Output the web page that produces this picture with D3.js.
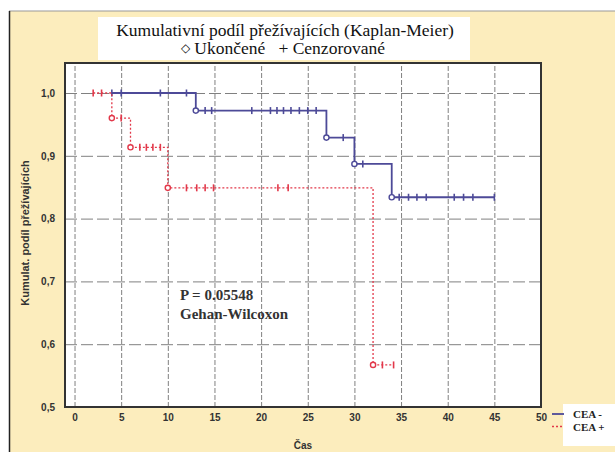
<!DOCTYPE html>
<html>
<head>
<meta charset="utf-8">
<script src="https://cdn.jsdelivr.net/npm/d3@7"></script>
<style>
body { margin: 0; background: #fff; }
svg { display: block; }
</style>
</head>
<body>
<div id="chart"></div>
<script>
(function(){

var width = 615,
	height = 452;

// plot frame (pixels)
var plot = { left: 65, right: 541, top: 63, bottom: 407 };

// data
var x_ticks = [0, 5, 10, 15, 20, 25, 30, 35, 40, 45, 50],
	y_ticks = [0.5, 0.6, 0.7, 0.8, 0.9, 1.0];

// CEA - (blue, solid): step path, events and censored times
var blue_steps = [[4, 1.0], [13, 0.972], [27, 0.929], [30, 0.887], [34, 0.834], [45, 0.834]];
var blue_events = [[13, 0.972], [27, 0.929], [30, 0.887], [34, 0.834]];
var blue_censored = [4, 5, 9.2, 12, 14, 14.7, 19, 21, 21.7, 22.4, 23.2, 24.1, 25, 25.9, 28.8, 30.9, 34.8, 35.8, 36.7, 37.7, 40.7, 41.7, 42.7, 45];

// CEA + (red, dotted)
var red_steps = [[2, 1.0], [4, 0.96], [6, 0.9135], [10, 0.849], [32, 0.567], [34.2, 0.567]];
var red_events = [[4, 0.96], [6, 0.9135], [10, 0.849], [32, 0.567]];
var red_censored = [2, 2.9, 5, 7, 7.7, 8.4, 9.2, 12, 13.1, 14, 14.9, 21.8, 22.9, 33, 34.2];

var legend_labels = ["CEA -", "CEA +"];
var title_lines = ["Kumulativní podíl přežívajících (Kaplan-Meier)"];
var note_lines = ["P = 0.05548", "Gehan-Wilcoxon"];

var blue = "#4d4a98",
	red = "#e2384a",
	beige = "#fcedbd";

var svg = d3.select("#chart").append("svg")
	.attr("width", width)
	.attr("height", height);

// panel background
svg.append("rect").attr("x", 9).attr("y", 11).attr("width", width - 9).attr("height", height - 11)
	.style("fill", beige);
svg.append("line").attr("x1", 9).attr("x2", width).attr("y1", 11).attr("y2", 11)
	.style("stroke", "#999").style("stroke-width", 1);
svg.append("line").attr("x1", 9.5).attr("x2", 9.5).attr("y1", 11).attr("y2", height)
	.style("stroke", "#222").style("stroke-width", 1.5);

// title box
svg.append("rect").attr("x", 98).attr("y", 17).attr("width", 372).attr("height", 43)
	.style("fill", "#fff");
svg.append("text").attr("x", 285).attr("y", 35.5)
	.attr("text-anchor", "middle")
	.style("font-family", "Liberation Serif, serif").style("font-size", "17.5px").style("fill", "#111")
	.text(title_lines[0]);
var sub = svg.append("text").attr("x", 283).attr("y", 54)
	.attr("text-anchor", "middle")
	.style("font-family", "Liberation Serif, serif").style("font-size", "17.5px").style("fill", "#111")
	.attr("xml:space", "preserve");
sub.append("tspan").style("font-size", "12px").attr("dy", -2).text("\u25C7");
sub.append("tspan").attr("dy", 2).text(" Ukončené   + Cenzorované");

var X = d3.scaleLinear().domain([-1.02, 50]).range([plot.left, plot.right]);
var Y = d3.scaleLinear().domain([0.5, 1.0]).range([plot.bottom, 93]);

// plot area
svg.append("rect")
	.attr("x", plot.left).attr("y", plot.top)
	.attr("width", plot.right - plot.left).attr("height", plot.bottom - plot.top)
	.style("fill", "#fff");

// grid
var gx = svg.append("g").attr("class", "grid")
	.attr("transform", "translate(0," + plot.bottom + ")")
	.call(d3.axisBottom(X).tickValues(x_ticks).tickSize(-(plot.bottom - plot.top)).tickFormat(""));
gx.select(".domain").remove();
gx.selectAll("line").style("stroke", "#808080").style("stroke-dasharray", "5,2").style("stroke-width", 1);

var gy = svg.append("g").attr("class", "grid")
	.attr("transform", "translate(" + plot.left + ",0)")
	.call(d3.axisLeft(Y).tickValues(y_ticks).tickSize(-(plot.right - plot.left)).tickFormat(""));
gy.select(".domain").remove();
gy.selectAll("line").style("stroke", "#808080").style("stroke-dasharray", "12,4").style("stroke-width", 1);

// axis labels
var ax = svg.append("g")
	.attr("transform", "translate(0," + plot.bottom + ")")
	.call(d3.axisBottom(X).tickValues(x_ticks).tickSize(0).tickPadding(7));
ax.select(".domain").remove();
ax.selectAll("text").style("font-family", "Liberation Sans, Arial, sans-serif")
	.style("font-size", "10px").style("font-weight", "bold").style("fill", "#333");

var ay = svg.append("g")
	.attr("transform", "translate(" + plot.left + ",0)")
	.call(d3.axisLeft(Y).tickValues(y_ticks).tickSize(0).tickPadding(10)
		.tickFormat(function(d){ return d3.format(".1f")(d).replace(".", ","); }));
ay.select(".domain").remove();
ay.selectAll("text").style("font-family", "Liberation Sans, Arial, sans-serif")
	.style("font-size", "10px").style("font-weight", "bold").style("fill", "#333");

// plot frame
svg.append("rect")
	.attr("x", plot.left).attr("y", plot.top)
	.attr("width", plot.right - plot.left).attr("height", plot.bottom - plot.top)
	.style("fill", "none").style("stroke", "#333").style("stroke-width", 2);

// axis titles
svg.append("text")
	.attr("transform", "translate(29," + ((plot.top + plot.bottom) / 2 -2) + ") rotate(-90)")
	.attr("text-anchor", "middle")
	.style("font-family", "Liberation Sans, Arial, sans-serif").style("font-size", "11px")
	.style("font-weight", "bold").style("fill", "#333")
	.text("Kumulat. podíl přežívajících");
svg.append("text")
	.attr("x", (plot.left + plot.right) / 2).attr("y", 449)
	.attr("text-anchor", "middle")
	.style("font-family", "Liberation Sans, Arial, sans-serif").style("font-size", "10px")
	.style("font-weight", "bold").style("fill", "#333")
	.text("Čas");

// survival curves
var step = d3.line()
	.x(function(d){ return X(d[0]); })
	.y(function(d){ return Y(d[1]); })
	.curve(d3.curveStepAfter);

function survival(steps, events, censored, color, dash){
	var g = svg.append("g");
	g.append("path").datum(steps)
		.attr("d", step)
		.style("fill", "none").style("stroke", color)
		.style("stroke-width", dash ? 1.3 : 1.8)
		.style("stroke-dasharray", dash ? "2,2" : null);

	// value of the curve at time t
	function S(t){
		var v = steps[0][1];
		steps.forEach(function(d){ if (d[0] <= t) v = d[1]; });
		return v;
	}

	g.selectAll(".cens").data(censored).enter().append("line")
		.attr("x1", function(d){ return X(d); })
		.attr("x2", function(d){ return X(d); })
		.attr("y1", function(d){ return Y(S(d)) - 3.5; })
		.attr("y2", function(d){ return Y(S(d)) + 3.5; })
		.style("stroke", color).style("stroke-width", 1.6);

	g.selectAll(".ev").data(events).enter().append("circle")
		.attr("cx", function(d){ return X(d[0]); })
		.attr("cy", function(d){ return Y(d[1]); })
		.attr("r", 2.6)
		.style("fill", "#fff").style("stroke", color).style("stroke-width", 1.4);
}

survival(blue_steps, blue_events, blue_censored, blue, false);
survival(red_steps, red_events, red_censored, red, true);

// note
svg.selectAll(".note").data(note_lines).enter().append("text")
	.attr("x", 180).attr("y", function(d, i){ return 300 + i * 19; })
	.style("font-family", "Liberation Serif, serif").style("font-size", "15px")
	.style("font-weight", "bold").style("fill", "#333")
	.text(function(d){ return d; });

// legend
svg.append("rect").attr("x", 563).attr("y", 404).attr("width", 52).attr("height", 42)
	.style("fill", "#fff");
var lg = svg.selectAll(".legend").data(legend_labels).enter().append("g")
	.attr("transform", function(d, i){ return "translate(552," + (414 + i * 12.5) + ")"; });
lg.append("line").attr("x1", 0).attr("x2", 12).attr("y1", 0).attr("y2", 0)
	.style("stroke", function(d, i){ return i ? red : blue; })
	.style("stroke-width", function(d, i){ return i ? 1.5 : 1.8; })
	.style("stroke-dasharray", function(d, i){ return i ? "2,2" : null; });
lg.append("text").attr("x", 21).attr("y", 4)
	.style("font-family", "Liberation Serif, serif").style("font-size", "11px")
	.style("font-weight", "bold").style("fill", "#222")
	.text(function(d){ return d; });

})()
</script>
</body>
</html>
